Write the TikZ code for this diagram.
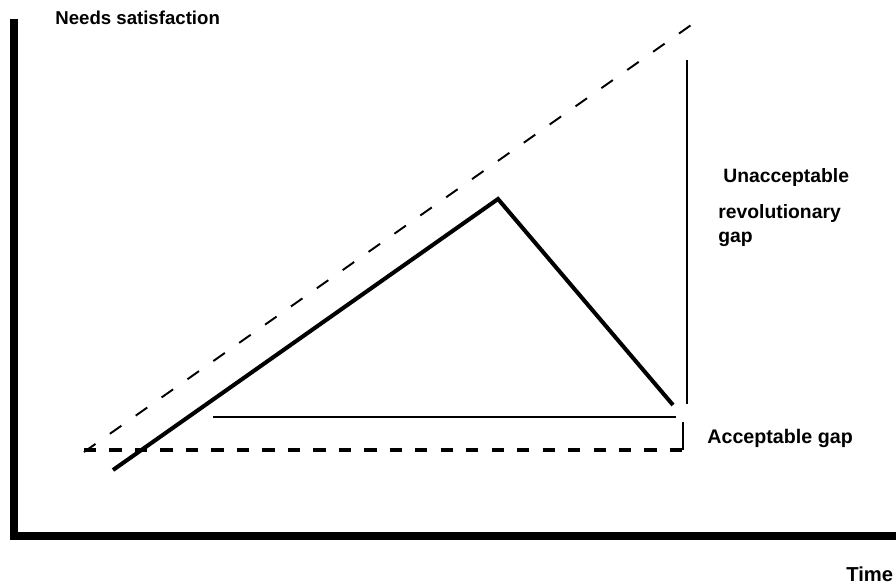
\documentclass[tikz,border=0pt]{standalone}
\usepackage{fontspec}
\setmainfont{Liberation Sans}
\begin{document}
\begin{tikzpicture}[x=0.02cm, y=-0.02cm, font=\bfseries,
  axis/.style={line width=4.5pt},
  lbl/.style={inner sep=0pt, anchor=west}]
  \useasboundingbox (0,0) rectangle (896,585);
  % axes
  \coordinate (top) at (14,19);
  \coordinate (origin) at (14,536);
  \coordinate (right) at (896,536);
  \draw[axis] (top) -- (origin) -- (right);
  \node[lbl, font=\bfseries\fontsize{10.6}{12}\selectfont] (needs) at (55,18) {Needs satisfaction};
  \node[lbl, font=\bfseries\fontsize{11.5}{13}\selectfont] (time) at (846,574) {Time};
  % expectations and acceptable level
  \coordinate (e0) at (84,452);
  \coordinate (e1) at (694,23);
  \draw[line width=1.1pt, dash pattern=on 8pt off 10pt] (e0) -- (e1);
  \coordinate (a0) at (84,450);
  \coordinate (a1) at (683,450);
  \coordinate (a2) at (683,422);
  \draw[line width=1.8pt, dash pattern=on 7pt off 7.5pt] (a0) -- (a1);
  \draw[line width=0.8pt] (a1) -- (a2);
  % actual satisfaction
  \coordinate (s0) at (113,470);
  \coordinate (peak) at (498,199);
  \coordinate (s1) at (673,405);
  \draw[line width=2.3pt] (s0) -- (peak) -- (s1);
  % gaps
  \coordinate (g0) at (213,417);
  \coordinate (g1) at (676,417);
  \draw[line width=0.8pt] (g0) -- (g1);
  \coordinate (u0) at (687,60);
  \coordinate (u1) at (687,404);
  \draw[line width=0.8pt] (u0) -- (u1);
  \node[lbl, font=\bfseries\fontsize{11}{13}\selectfont] (unacc) at (723,177) {Unacceptable};
  \node[lbl, font=\bfseries\fontsize{11}{13}\selectfont] (revol) at (718,213) {revolutionary};
  \node[lbl, font=\bfseries\fontsize{11}{13}\selectfont] (gap) at (718,239) {gap};
  \node[lbl, font=\bfseries\fontsize{11.2}{13}\selectfont] (acc) at (707,438) {Acceptable gap};
\end{tikzpicture}
\end{document}
